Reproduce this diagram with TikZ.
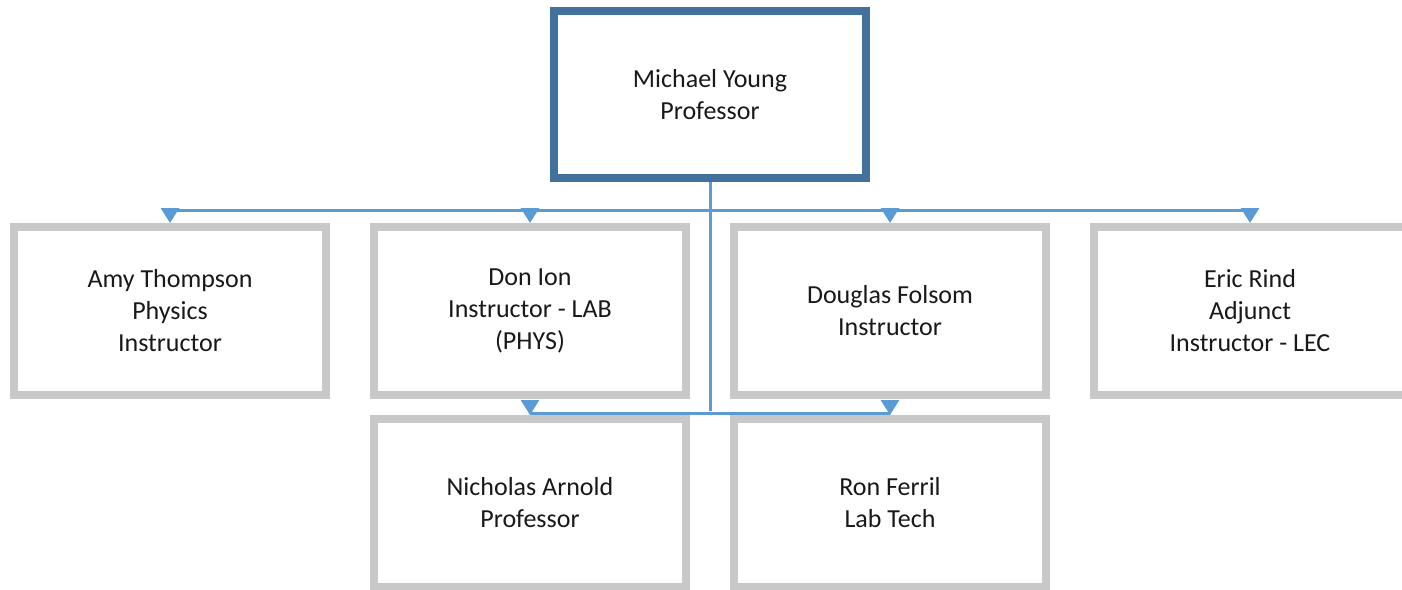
\documentclass[tikz,border=0pt]{standalone}
\usepackage{fontspec}
\setmainfont{Carlito}
\usetikzlibrary{arrows.meta,positioning,shadows}
\definecolor{headblue}{RGB}{65,113,156}
\definecolor{boxgray}{RGB}{200,200,200}
\definecolor{linkblue}{RGB}{91,155,213}
\definecolor{glow}{RGB}{214,228,242}

\begin{document}
\begin{tikzpicture}[x=1pt,y=-1pt]
\tikzstyle{every node}=[font=\fontsize{26}{32}\selectfont, align=center, text=black!90]
\tikzstyle{person}=[draw=boxgray, line width=8pt, fill=white, minimum width=312pt, minimum height=168pt, inner sep=0pt, drop shadow={shadow xshift=0pt, shadow yshift=-4pt, fill=glow, opacity=.6}]
\tikzstyle{head}=[person, draw=headblue, minimum height=167pt]
\tikzstyle{link}=[draw=linkblue, line width=3pt]
\tikzstyle{arr}=[link, -{Triangle[length=15pt,width=18pt]}]
\useasboundingbox (0,0) rectangle (1402,589);
% top of the chart
\node[head] (young) at (710,94.5) {Michael Young\\Professor};
% first row
\node[person] (amy) at (170,311) {Amy Thompson\\Physics\\Instructor};
\node[person, right=40pt of amy] (ion) {Don Ion\\Instructor - LAB\\(PHYS)};
\node[person, right=40pt of ion] (folsom) {Douglas Folsom\\Instructor};
\node[person, right=40pt of folsom] (rind) {Eric Rind\\Adjunct\\Instructor - LEC};
% second row
\node[person, below=16pt of ion] (arnold) {Nicholas Arnold\\Professor};
\node[person, below=16pt of folsom] (ferril) {Ron Ferril\\Lab Tech};
% connectors
\coordinate (bus) at (710,210);
\draw[link] (young.south) -- ([yshift=4pt]young.south |- arnold.north);
\draw[link] (amy.north |- bus) -- (rind.north |- bus);
\foreach \p in {amy,ion,folsom,rind}
  \draw[arr] (\p.north |- bus) -- (\p.north);
\draw[link] ([yshift=2pt]arnold.north) -- ([yshift=2pt]ferril.north);
\foreach \p in {arnold,ferril}
  \draw[arr] ([yshift=15pt]\p.north) -- (\p.north);
\end{tikzpicture}
\end{document}
